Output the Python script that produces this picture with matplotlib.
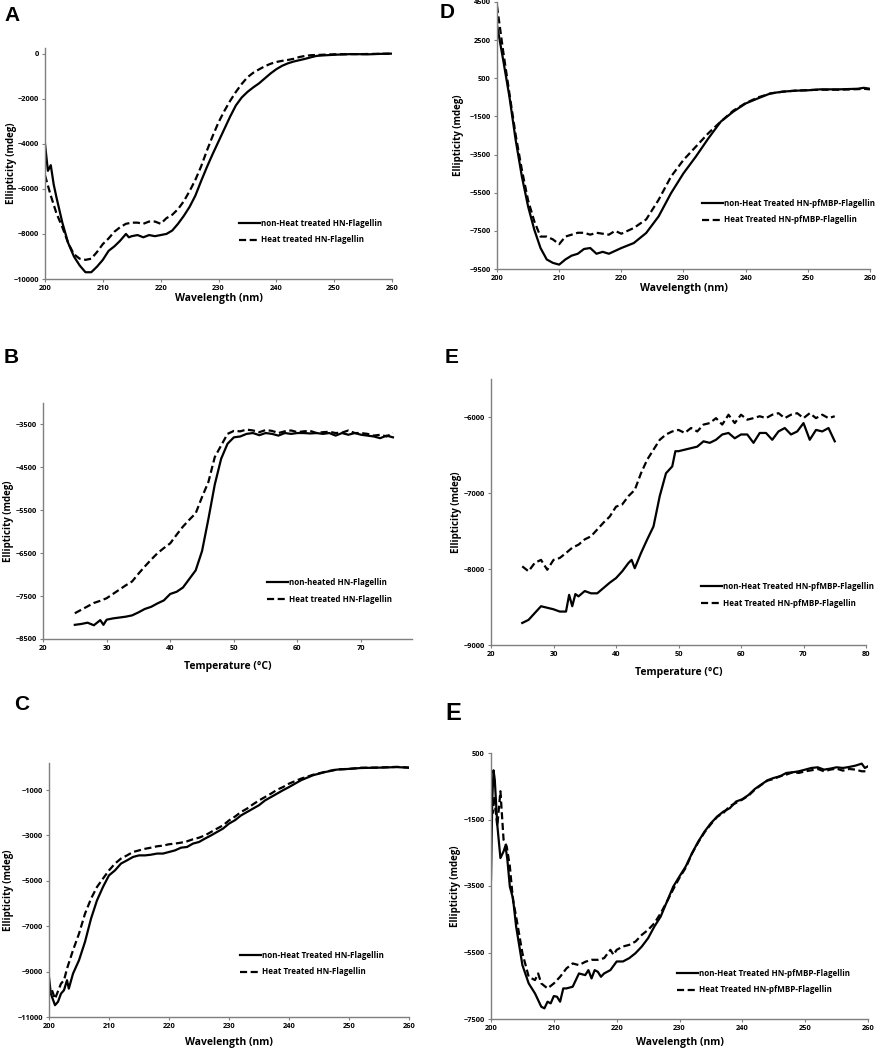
import matplotlib
matplotlib.use("Agg")
import matplotlib.pyplot as plt
from matplotlib.transforms import blended_transform_factory
import numpy as np

plt.rcParams['font.family'] = ['Open Sans', 'DejaVu Sans']

# ---------------- Panel A ----------------
a_wl_solid = [200, 200.5, 201, 201.5, 202, 203, 204, 205, 206, 207, 208, 209, 210, 211, 212, 213, 214,
              214.5, 215, 216, 217, 218, 219, 220, 221, 222, 223, 224, 225, 226, 227, 228, 229, 230,
              231, 232, 233, 234, 235, 236, 237, 238, 239, 240, 241, 242, 243, 244, 245, 246, 247,
              248, 250, 253, 256, 258, 260]
a_solid = [-4000, -5200, -4950, -5800, -6400, -7500, -8400, -9000, -9400, -9700, -9700, -9450, -9150,
           -8750, -8550, -8300, -8000, -8150, -8100, -8050, -8150, -8050, -8100, -8050, -8000, -7850,
           -7550, -7200, -6800, -6300, -5650, -5030, -4450, -3900, -3350, -2800, -2300, -1950, -1700,
           -1500, -1320, -1100, -880, -690, -540, -430, -350, -290, -230, -160, -100, -80, -50, -20,
           -30, -10, 0]
a_wl_dash = [200, 201, 202, 203, 204, 205, 206, 207, 208, 209, 210, 211, 212, 213, 214, 215, 216, 217,
             218, 219, 220, 221, 222, 223, 224, 225, 226, 227, 228, 229, 230, 231, 232, 233, 234, 235,
             236, 237, 238, 239, 240, 241, 242, 243, 244, 245, 246, 248, 250, 255, 260]
a_dash = [-5400, -6300, -7100, -7700, -8400, -8900, -9100, -9150, -9100, -8800, -8450, -8200, -7900,
          -7700, -7550, -7500, -7500, -7550, -7450, -7450, -7550, -7300, -7150, -6900, -6550, -6100,
          -5600, -5000, -4300, -3650, -3050, -2550, -2100, -1700, -1350, -1050, -850, -700, -560, -450,
          -370, -320, -280, -230, -150, -100, -70, -50, -30, -20, 0]

# ---------------- Panel D ----------------
d_wl_solid = [200, 201, 202, 203, 204, 205, 206, 207, 208, 209, 210, 211, 212, 213, 214, 215, 216, 217,
              218, 219, 220, 222, 224, 226, 228, 230, 232, 234, 236, 238, 240, 242, 244, 246, 248, 250,
              252, 255, 258, 259, 260]
d_solid = [3300, 1450, -470, -2730, -4650, -6220, -7440, -8400, -9000, -9180, -9270, -9000, -8800,
           -8700, -8450, -8400, -8700, -8600, -8700, -8550, -8400, -8140, -7610, -6740, -5520, -4480,
           -3600, -2650, -1770, -1250, -820, -550, -290, -200, -150, -130, -80, -80, -50, 0, -50]
d_wl_dash = [200, 201, 202, 203, 204, 205, 206, 207, 208, 209, 210, 211, 212, 213, 214, 215, 216, 217,
             218, 219, 220, 222, 224, 226, 228, 230, 232, 234, 236, 238, 240, 242, 244, 246, 248, 250,
             252, 255, 258, 259, 260]
d_dash = [4300, 1900, -300, -2470, -4300, -5900, -7000, -7800, -7800, -7950, -8200, -7800, -7700, -7600,
          -7600, -7700, -7600, -7650, -7700, -7500, -7650, -7350, -6900, -5870, -4650, -3780, -3080,
          -2380, -1770, -1200, -800, -500, -300, -200, -150, -120, -100, -100, -70, -50, -80]

# ---------------- Panel B ----------------
b_temp = [25, 26, 27, 28, 29, 29.5, 30, 31, 32, 33, 34, 35, 36, 37, 38, 39, 40, 41, 42, 43, 44, 45, 46,
          47, 48, 49, 50, 51, 52, 53, 54, 55, 56, 57, 58, 59, 60, 61, 62, 63, 64, 65, 66, 67, 68, 69,
          70, 71, 72, 73, 74, 75]
b_solid = [-8170, -8150, -8120, -8180, -8060, -8170, -8050, -8020, -8000, -7980, -7950, -7880, -7800,
           -7750, -7670, -7600, -7450, -7400, -7300, -7100, -6900, -6450, -5700, -4900, -4300, -3950,
           -3800, -3780, -3720, -3700, -3750, -3700, -3720, -3760, -3700, -3720, -3700, -3700, -3710,
           -3700, -3720, -3700, -3760, -3700, -3740, -3700, -3740, -3760, -3780, -3820, -3760, -3800]
b_dash = [-7900, -7820, -7740, -7660, -7610, -7580, -7550, -7450, -7350, -7250, -7160, -6980, -6810,
          -6650, -6500, -6380, -6270, -6070, -5880, -5720, -5570, -5190, -4840, -4260, -3990, -3720,
          -3650, -3660, -3620, -3640, -3680, -3630, -3650, -3700, -3660, -3640, -3680, -3660, -3650,
          -3700, -3680, -3670, -3700, -3690, -3640, -3700, -3700, -3720, -3760, -3740, -3780, -3700]

# ---------------- Panel E (temperature) ----------------
e_temp = [25, 26, 27, 28, 29, 30, 31, 32, 32.5, 33, 33.5, 34, 35, 36, 37, 38, 39, 40, 41, 42, 42.5, 43,
          44, 45, 46, 47, 48, 49, 49.5, 50, 51, 52, 53, 54, 55, 56, 57, 58, 59, 60, 61, 62, 63, 64, 65,
          66, 67, 68, 69, 70, 71, 72, 73, 74, 75]
e_solid = [-8710, -8670, -8580, -8490, -8510, -8530, -8560, -8560, -8340, -8490, -8330, -8360, -8290,
           -8320, -8320, -8250, -8180, -8120, -8030, -7920, -7880, -7990, -7790, -7610, -7440, -7040,
           -6740, -6650, -6450, -6450, -6430, -6410, -6390, -6320, -6340, -6300, -6230, -6210, -6280,
           -6230, -6230, -6340, -6210, -6210, -6300, -6190, -6145, -6230, -6190, -6080, -6300, -6170,
           -6190, -6145, -6320]
e_temp_d = [25, 26, 27, 28, 29, 30, 31, 32, 33, 34, 35, 36, 37, 38, 39, 40, 41, 42, 43, 44, 45, 46, 47,
            48, 49, 50, 51, 52, 53, 54, 55, 56, 57, 58, 59, 60, 61, 62, 63, 64, 65, 66, 67, 68, 69, 70,
            71, 72, 73, 74, 75]
e_dash = [-7965, -8030, -7920, -7880, -8010, -7880, -7855, -7790, -7720, -7680, -7610, -7570, -7480,
          -7390, -7310, -7180, -7150, -7040, -6960, -6740, -6560, -6430, -6300, -6230, -6190, -6170,
          -6210, -6145, -6190, -6100, -6080, -6015, -6100, -5970, -6080, -5970, -6035, -6015, -5990,
          -6015, -5970, -5950, -6015, -5970, -5950, -6015, -5950, -6015, -5970, -6015, -5990]

# ---------------- Panel C ----------------
c_wl_solid = [200, 200.3, 201, 201.5, 202, 202.5, 203, 203.3, 204, 205, 206, 207, 208, 209, 210, 211,
              212, 213, 214, 215, 216, 217, 218, 219, 220, 221, 222, 223, 224, 225, 226, 227, 228, 229,
              230, 231, 232, 233, 234, 235, 236, 237, 238, 239, 240, 241, 242, 244, 246, 248, 250, 252,
              255, 258, 260]
c_solid = [-9240, -9970, -10480, -10330, -9970, -9820, -9380, -9750, -9090, -8500, -7690, -6670, -5860,
           -5270, -4760, -4540, -4240, -4100, -3950, -3880, -3880, -3850, -3800, -3800, -3730, -3660,
           -3540, -3510, -3360, -3290, -3140, -3000, -2850, -2700, -2480, -2330, -2120, -1970, -1820,
           -1670, -1460, -1310, -1160, -1010, -870, -720, -570, -350, -210, -100, -70, -30, -15, 10, -20]
c_wl_dash = [200.5, 201, 202, 202.5, 203, 204, 205, 206, 207, 208, 209, 210, 211, 212, 213, 214, 215,
             216, 217, 218, 219, 220, 221, 222, 223, 224, 225, 226, 227, 228, 229, 230, 231, 232, 233,
             234, 235, 236, 237, 238, 239, 240, 242, 244, 246, 248, 250, 252, 255, 258, 260]
c_dash = [-9820, -10200, -9530, -9380, -8870, -8060, -7330, -6450, -5790, -5270, -4900, -4540, -4240,
          -4020, -3880, -3730, -3660, -3590, -3540, -3480, -3450, -3390, -3360, -3320, -3260, -3170,
          -3100, -3000, -2850, -2700, -2560, -2340, -2170, -1970, -1820, -1630, -1460, -1310, -1160,
          -990, -870, -720, -500, -330, -200, -90, -70, -20, -10, 20, -10]

# ---------------- Panel E (wavelength) ----------------
f_wl_solid = [200, 200.2, 200.4, 200.6, 201, 201.5, 202, 202.3, 202.6, 203, 203.5, 204, 205, 206, 207,
              208, 208.5, 209, 209.5, 210, 210.5, 211, 211.5, 212, 213, 214, 215, 215.5, 216, 216.5,
              217, 217.5, 218, 219, 220, 221, 222, 223, 224, 225, 226, 227, 228, 229, 230, 231, 232,
              233, 234, 235, 236, 237, 238, 239, 240, 241, 242, 243, 244, 245, 246, 247, 248, 249, 250,
              251, 252, 253, 254, 255, 256, 257, 258, 259, 259.5, 260]
f_solid = [-3310, -900, -20, -300, -1660, -2660, -2460, -2290, -2700, -3520, -3870, -4720, -5880, -6430,
           -6730, -7130, -7180, -6980, -7030, -6810, -6830, -6980, -6580, -6580, -6530, -6130, -6180,
           -6030, -6280, -6030, -6080, -6230, -6130, -6030, -5770, -5770, -5670, -5520, -5320, -5070,
           -4720, -4420, -3970, -3520, -3210, -2910, -2510, -2160, -1860, -1610, -1410, -1260, -1160,
           -960, -890, -760, -580, -450, -320, -250, -200, -100, -80, -50, 0, 50, 70, 0, 30, 70, 50, 80,
           120, 180, 50, 100]
f_wl_dash = [200, 200.3, 200.5, 201, 201.5, 202, 202.5, 203, 203.5, 204, 205, 206, 207, 207.5, 208, 209,
             210, 211, 212, 213, 214, 215, 216, 217, 218, 219, 219.5, 220, 221, 222, 223, 224, 225, 226,
             227, 228, 229, 230, 231, 232, 233, 234, 235, 236, 237, 238, 239, 240, 241, 242, 243, 244,
             245, 246, 247, 248, 249, 250, 251, 252, 253, 254, 255, 256, 257, 258, 259, 260]
f_dash = [-1200, -1300, -800, -1700, -650, -2110, -2310, -2910, -3920, -4420, -5520, -6230, -6330, -6130,
          -6430, -6580, -6430, -6230, -5980, -5830, -5880, -5780, -5720, -5720, -5670, -5420, -5570,
          -5420, -5320, -5270, -5170, -4970, -4820, -4620, -4320, -3970, -3600, -3250, -2950, -2520,
          -2180, -1880, -1640, -1420, -1300, -1100, -1000, -900, -780, -600, -460, -330, -280, -200,
          -150, -80, -100, -50, -20, 20, -50, 0, 30, -30, 20, 0, -50, -50]

# ---------------- Labels ----------------
ylab = "Ellipticity (mdeg)"
wl_lab = "Wavelength (nm)"
t_lab = "Temperature (°C)"

W, H = 876, 1050
fig = plt.figure(figsize=(W / 100, H / 100), dpi=100)


def px_axes(left, top, right, bottom):
    return fig.add_axes([left / W, 1 - bottom / H, (right - left) / W, (bottom - top) / H])


def style(ax, xlim, ylim, xticks, yticks, xlabel, xlab_y, ylab_x):
    ax.set_xlim(*xlim)
    ax.set_ylim(*ylim)
    ax.set_xticks(xticks)
    ax.set_yticks(yticks)
    for s in ['top', 'right']:
        ax.spines[s].set_visible(False)
    for s in ['left', 'bottom']:
        ax.spines[s].set_color('#7f7f7f')
        ax.spines[s].set_linewidth(1.0)
    ax.tick_params(axis='both', direction='out', length=2.5, width=0.8, color='#7f7f7f',
                   labelsize=5.3, pad=2)
    for lab in ax.get_xticklabels() + ax.get_yticklabels():
        lab.set_fontweight('bold')
    ax.set_xlabel(xlabel, fontsize=7.5, fontweight='bold')
    ax.set_ylabel(ylab, fontsize=7, fontweight='bold')
    # x label: centred horizontally on axes, vertical position in figure pixels
    ax.xaxis.set_label_coords(0.5, 1 - xlab_y / H,
                              transform=blended_transform_factory(ax.transAxes, fig.transFigure))
    ax.xaxis.label.set_va('center')
    # y label: horizontal position in figure pixels, centred on axes vertically
    ax.yaxis.set_label_coords(ylab_x / W, 0.5,
                              transform=blended_transform_factory(fig.transFigure, ax.transAxes))
    ax.yaxis.label.set_va('center')


def plot_pair(ax, xs, ys, xd, yd, lab_s, lab_d, anchor):
    ax.plot(xs, ys, color='black', lw=1.6, solid_joinstyle='round', label=lab_s)
    ax.plot(xd, yd, color='black', lw=1.6, dashes=(3.2, 1.6), label=lab_d)
    leg = ax.legend(loc='center left', bbox_to_anchor=anchor, frameon=False, fontsize=5.8,
                    handlelength=2.6, handletextpad=0.15, labelspacing=0.95, borderaxespad=0,
                    borderpad=0)
    for t in leg.get_texts():
        t.set_fontweight('bold')


def letter(x, y, s, size=15):
    fig.text(x / W, 1 - y / H, s, fontsize=size, fontweight='bold', va='top', ha='left',
             family=['Liberation Sans', 'DejaVu Sans'])


# Panel A
axA = px_axes(45, 48, 392, 279)
plot_pair(axA, a_wl_solid, a_solid, a_wl_dash, a_dash,
          "non-Heat treated HN-Flagellin", "Heat treated HN-Flagellin", (0.56, 0.205))
style(axA, (200, 260), (-10000, 250), np.arange(200, 261, 10), np.arange(-10000, 1, 2000),
      wl_lab, 299, 12)
letter(4, 6, "A")

# Panel D
axD = px_axes(497, 2, 870, 269)
plot_pair(axD, d_wl_solid, d_solid, d_wl_dash, d_dash,
          "non-Heat Treated HN-pfMBP-Flagellin", "Heat Treated HN-pfMBP-Flagellin", (0.55, 0.215))
style(axD, (200, 260), (-9500, 4500), np.arange(200, 261, 10), np.arange(-9500, 4501, 2000),
      wl_lab, 288, 459)
letter(440, 3, "D")

# Panel B
axB = px_axes(43, 403, 412, 639)
plot_pair(axB, b_temp, b_solid, b_temp, b_dash,
          "non-heated HN-Flagellin", "Heat treated HN-Flagellin", (0.607, 0.203))
style(axB, (20, 78), (-8500, -3000), np.arange(20, 71, 10), np.arange(-8500, -3499, 1000),
      t_lab, 666, 9)
letter(4, 348, "B")

# Panel E (temperature)
axE = px_axes(491, 379, 866, 645)
plot_pair(axE, e_temp, e_solid, e_temp_d, e_dash,
          "non-Heat Treated HN-pfMBP-Flagellin", "Heat Treated HN-pfMBP-Flagellin", (0.56, 0.188))
style(axE, (20, 80), (-9000, -5500), np.arange(20, 81, 10), np.arange(-9000, -5999, 1000),
      t_lab, 672, 456)
letter(445, 348, "E")

# Panel C
axC = px_axes(49, 763, 409, 1017)
plot_pair(axC, c_wl_solid, c_solid, c_wl_dash, c_dash,
          "non-Heat Treated HN-Flagellin", "Heat Treated HN-Flagellin", (0.53, 0.21))
style(axC, (200, 260), (-11000, 190), np.arange(200, 261, 10), np.arange(-11000, -999, 2000),
      wl_lab, 1042, 9)
letter(14, 695, "C")

# Panel E (wavelength)
axF = px_axes(491, 753, 868, 1019)
plot_pair(axF, f_wl_solid, f_solid, f_wl_dash, f_dash,
          "non-Heat Treated HN-pfMBP-Flagellin", "Heat Treated HN-pfMBP-Flagellin", (0.493, 0.141))
style(axF, (200, 260), (-7500, 500), np.arange(200, 261, 10), np.arange(-7500, 501, 2000),
      wl_lab, 1042, 455)
letter(445, 702, "E", size=17)

fig.savefig("out.png", dpi=100)
